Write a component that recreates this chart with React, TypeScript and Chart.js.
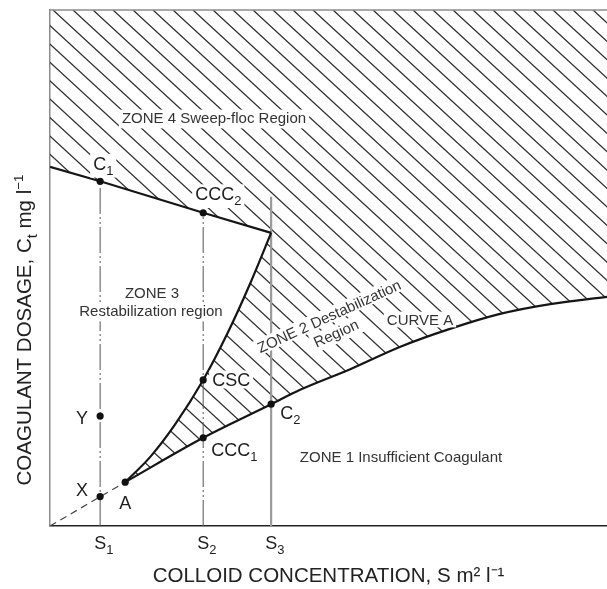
import React, { useEffect, useRef } from "react";
import { Chart, registerables } from "chart.js";

Chart.register(...registerables);

// ---------- DATA (arbitrary units: x = colloid concentration, y = coagulant dosage) ----------
const xRange = [0, 100];
const yRange = [0, 100];

// x tick positions S1, S2, S3
const sValues = [9, 27.5, 39.7];
const sSubs = ["1", "2", "3"];
// heights reached by the vertical guide lines at S1, S2, S3
const sTops = [66.8, 60.7, 63.8];

// Upper boundary between Zone 4 (sweep floc) and Zone 3 (restabilization)
const upperX = [0, 9, 27.5, 39.7];
const upperY = [69.6, 66.8, 60.7, 56.8];

// CSC curve (boundary Zone 3 / Zone 2)
const cscX = [13.5, 18, 22.4, 27.5, 31.8, 35.9, 39.7];
const cscY = [8.5, 13.4, 19.6, 28.3, 37.2, 46.9, 56.8];

// Curve A (CCC, boundary Zone 2 / Zone 1)
const curveAX = [13.5, 27.5, 39.7, 44.9, 53.9, 62.8, 71.8, 80.8, 89.8, 100];
const curveAY = [8.5, 17.1, 23.6, 26.4, 30.4, 34.7, 38.2, 41.1, 43.0, 44.4];

// Dashed extension from origin to A
const extX = [0, 13.5];
const extY = [0, 8.5];

// Named points
const pointNames = ["C1", "CCC2", "CSC", "CCC1", "C2", "A", "X", "Y"];
const pointX = [9, 27.5, 27.5, 27.5, 39.7, 13.5, 9, 9];
const pointY = [66.8, 60.7, 28.3, 17.1, 23.6, 8.5, 5.7, 21.3];

// Texts
const xTitle = "COLLOID CONCENTRATION, S m\u00B2 l\u207B\u00B9";
const zoneTexts = [
  "ZONE 4 Sweep-floc Region",
  "ZONE 3",
  "Restabilization region",
  "ZONE 2 Destabilization",
  "Region",
  "CURVE A",
  "ZONE 1 Insufficient Coagulant",
];

// ---------- STYLE / LAYOUT ----------
const FONT = "'Liberation Sans', Arial, Helvetica, sans-serif";
const zonePlacement = [
  { x: 214, y: 118, rot: 0 },
  { x: 152, y: 293, rot: 0 },
  { x: 151, y: 311, rot: 0 },
  { x: 329, y: 316, rot: -24.5 },
  { x: 336, y: 333, rot: -24.5 },
  { x: 420, y: 320, rot: 0 },
  { x: 401, y: 457, rot: 0 },
];
// label placement relative to point pixel: [dx, dy, align]
const pointLabelPlacement: Record<string, [number, number, "left" | "center" | "right"]> = {
  C1: [-7, -18, "left"],
  CCC2: [-8, -19, "left"],
  CSC: [9, 0, "left"],
  CCC1: [8, 12, "left"],
  C2: [9, 8, "left"],
  A: [0, 20, "center"],
  X: [-12, -7, "right"],
  Y: [-12, 1, "right"],
};

type Part = { t: string; sub?: boolean; sup?: boolean };

function splitName(name: string): Part[] {
  const m = name.match(/^([A-Z]+?)(\d)$/);
  if (m) return [{ t: m[1] }, { t: m[2], sub: true }];
  return [{ t: name }];
}

function drawRich(
  ctx: CanvasRenderingContext2D,
  parts: Part[],
  x: number,
  cy: number,
  size: number,
  opts: { align?: "left" | "center" | "right"; rot?: number; box?: boolean; color?: string }
) {
  const align = opts.align || "center";
  ctx.save();
  ctx.translate(x, cy);
  if (opts.rot) ctx.rotate(opts.rot);
  const fontFor = (p: Part) => `${p.sub ? size * 0.72 : p.sup ? size * 0.65 : size}px ${FONT}`;
  const widths = parts.map((p) => {
    ctx.font = fontFor(p);
    return ctx.measureText(p.t).width;
  });
  const total = widths.reduce((a, b) => a + b, 0);
  const start = align === "left" ? 0 : align === "center" ? -total / 2 : -total;
  const cap = size * 0.716;
  const base = cap / 2;
  const hasSub = parts.some((p) => p.sub);
  const hasDesc = parts.some((p) => !p.sub && !p.sup && /[gjpqy,]/.test(p.t));
  if (opts.box) {
    const extra = hasSub ? size * 0.32 : hasDesc ? size * 0.2 : 0;
    ctx.fillStyle = "#ffffff";
    ctx.fillRect(start - 3, -cap / 2 - 3, total + 6, cap + 5 + extra);
  }
  ctx.fillStyle = opts.color || "#222";
  ctx.textBaseline = "alphabetic";
  ctx.textAlign = "left";
  let cx = start;
  parts.forEach((p, i) => {
    ctx.font = fontFor(p);
    const y = p.sub ? base + size * 0.28 : p.sup ? base - size * 0.42 : base;
    ctx.fillText(p.t, cx, y);
    cx += widths[i];
  });
  ctx.restore();
}

const hatchPlugin = {
  id: "hatchRegion",
  beforeDatasetsDraw(chart: any) {
    const { ctx, chartArea: a } = chart;
    const up = chart.getDatasetMeta(1).data as any[];
    const csMeta = chart.getDatasetMeta(2);
    const caMeta = chart.getDatasetMeta(3);
    [csMeta, caMeta].forEach((m: any) => {
      if (m.dataset && m.dataset.updateControlPoints) m.dataset.updateControlPoints(a, "x");
    });
    const cs = csMeta.data as any[];
    const ca = caMeta.data as any[];
    const bez = (c1x: any, c1y: any, c2x: any, c2y: any, x: number, y: number) => {
      if ([c1x, c1y, c2x, c2y].every((v) => typeof v === "number" && isFinite(v))) ctx.bezierCurveTo(c1x, c1y, c2x, c2y, x, y);
      else ctx.lineTo(x, y);
    };
    ctx.save();
    ctx.beginPath();
    ctx.moveTo(a.left, a.top);
    ctx.lineTo(up[0].x, up[0].y);
    up.forEach((p) => ctx.lineTo(p.x, p.y));
    const n = cs.length;
    ctx.lineTo(cs[n - 1].x, cs[n - 1].y);
    for (let i = n - 2; i >= 0; i--) bez(cs[i + 1].cp1x, cs[i + 1].cp1y, cs[i].cp2x, cs[i].cp2y, cs[i].x, cs[i].y);
    ctx.lineTo(ca[0].x, ca[0].y);
    for (let i = 1; i < ca.length; i++) bez(ca[i - 1].cp2x, ca[i - 1].cp2y, ca[i].cp1x, ca[i].cp1y, ca[i].x, ca[i].y);
    ctx.lineTo(a.right, ca[ca.length - 1].y);
    ctx.lineTo(a.right, a.top);
    ctx.closePath();
    ctx.clip();
    const slope = 0.92;
    const gap = 20;
    const run = (a.bottom - a.top) / slope;
    const phase = a.left + 3;
    let x0 = phase - Math.ceil((run + phase - a.left) / gap) * gap;
    ctx.beginPath();
    for (; x0 <= a.right + gap; x0 += gap) {
      ctx.moveTo(x0, a.top);
      ctx.lineTo(x0 + run, a.bottom);
    }
    ctx.strokeStyle = "#333";
    ctx.lineWidth = 1.3;
    ctx.stroke();
    ctx.restore();
    // top border
    ctx.save();
    ctx.strokeStyle = "#8c8c8c";
    ctx.lineWidth = 1.5;
    ctx.beginPath();
    ctx.moveTo(a.left, a.top);
    ctx.lineTo(a.right, a.top);
    ctx.stroke();
    ctx.restore();
  },
};

const labelPlugin = {
  id: "labels",
  afterDatasetsDraw(chart: any) {
    const { ctx } = chart;
    const xs = chart.scales.x;
    const ys = chart.scales.y;
    zoneTexts.forEach((t, i) => {
      const pl = zonePlacement[i];
      drawRich(ctx, [{ t }], pl.x, pl.y, 15, { align: "center", rot: (pl.rot * Math.PI) / 180, box: true, color: "#333" });
    });
    pointNames.forEach((name, i) => {
      const px = xs.getPixelForValue(pointX[i]);
      const py = ys.getPixelForValue(pointY[i]);
      const [dx, dy, align] = pointLabelPlacement[name];
      drawRich(ctx, splitName(name), px + dx, py + dy, 18, { align, box: true, color: "#1e1e1e" });
    });
    sValues.forEach((v, i) => {
      const px = xs.getPixelForValue(v);
      drawRich(ctx, [{ t: "S" }, { t: sSubs[i], sub: true }], px - 6, chart.chartArea.bottom + 17, 18, { align: "left", color: "#1e1e1e" });
    });
    drawRich(
      ctx,
      [{ t: "COAGULANT DOSAGE, C" }, { t: "t", sub: true }, { t: " mg l" }, { t: "\u22121", sup: true }],
      24,
      (chart.chartArea.top + chart.chartArea.bottom) / 2 + 62,
      20.5,
      { align: "center", rot: -Math.PI / 2, color: "#222" }
    );
  },
};

function xy(xa: number[], ya: number[]) {
  return xa.map((x, i) => ({ x, y: ya[i] }));
}

export default function App() {
  const ref = useRef<HTMLCanvasElement>(null);
  useEffect(() => {
    if (!ref.current) return;
    const lineBase = { showLine: true, pointRadius: 0, fill: false, borderColor: "#151515", borderWidth: 2.2 };
    const chart = new Chart(ref.current, {
      type: "scatter",
      data: {
        datasets: [
          {
            label: "points",
            data: xy(pointX, pointY),
            showLine: false,
            pointRadius: 3.6,
            pointBackgroundColor: "#111",
            pointBorderColor: "#111",
            pointBorderWidth: 0,
          },
          { label: "upper", data: xy(upperX, upperY), ...lineBase, tension: 0 },
          { label: "CSC", data: xy(cscX, cscY), ...lineBase, cubicInterpolationMode: "monotone" },
          { label: "Curve A", data: xy(curveAX, curveAY), ...lineBase, cubicInterpolationMode: "monotone" },
          { label: "ext", data: xy(extX, extY), ...lineBase, borderWidth: 1.2, borderColor: "#444", borderDash: [7, 5] },
          { label: "S3", data: [{ x: sValues[2], y: 0 }, { x: sValues[2], y: sTops[2] }], ...lineBase, borderWidth: 2.2, borderColor: "#9a9a9a" },
          { label: "S1", data: [{ x: sValues[0], y: 0 }, { x: sValues[0], y: sTops[0] }], ...lineBase, borderWidth: 1, borderColor: "#555", borderDash: [26, 3, 2, 3, 2, 3] },
          { label: "S2", data: [{ x: sValues[1], y: 0 }, { x: sValues[1], y: sTops[1] }], ...lineBase, borderWidth: 1, borderColor: "#555", borderDash: [26, 3, 2, 3, 2, 3] },
        ] as any,
      },
      options: {
        responsive: false,
        animation: false,
        devicePixelRatio: 1,
        layout: { autoPadding: false, padding: { top: 10, right: 0, left: 0, bottom: 0 } },
        plugins: { legend: { display: false }, tooltip: { enabled: false } },
        scales: {
          x: {
            type: "linear",
            min: xRange[0],
            max: xRange[1],
            grid: { display: false, drawTicks: false },
            border: { display: true, color: "#222", width: 1.6 },
            ticks: { display: false },
            title: {
              display: true,
              text: xTitle,
              color: "#222",
              font: { family: FONT, size: 20.5 },
              padding: { top: 0, bottom: 0 },
            },
            afterFit: (s: any) => {
              s.height = 63;
            },
          },
          y: {
            type: "linear",
            min: yRange[0],
            max: yRange[1],
            grid: { display: false, drawTicks: false },
            border: { display: true, color: "#8c8c8c", width: 1.5 },
            ticks: { display: false },
            afterFit: (s: any) => {
              s.width = 50;
            },
          },
        },
      } as any,
      plugins: [hatchPlugin, labelPlugin],
    });
    return () => chart.destroy();
  }, []);
  return (
    <div style={{ position: "absolute", left: 0, top: 0, width: 607, height: 589, background: "#fff" }}>
      <canvas ref={ref} width={607} height={589} style={{ display: "block", width: 607, height: 589 }} />
    </div>
  );
}
